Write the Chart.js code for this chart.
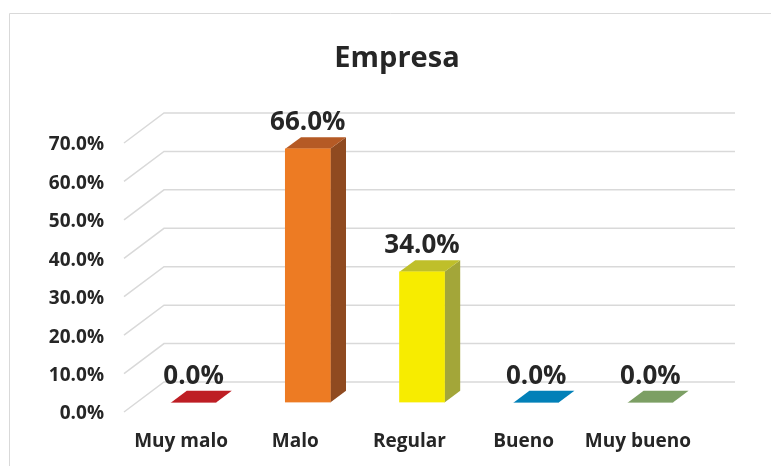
<!DOCTYPE html>
<html>
<head>
<meta charset="utf-8">
<title>Empresa</title>
<script src="https://cdn.jsdelivr.net/npm/chart.js@4/dist/chart.umd.min.js"></script>
<style>
  html, body { margin: 0; padding: 0; background: #fff; }
  canvas { display: block; }
</style>
</head>
<body>
<canvas id="empresaChart" width="771" height="466"></canvas>
<script>
const categorias = ["Muy malo", "Malo", "Regular", "Bueno", "Muy bueno"];
const valores = [0, 66, 34, 0, 0];
const colorFrente = ['#be1e24', '#ed7b23', '#f7ec00', '#0280b8', '#7c9f64'];
const colorTecho = ['#be1e24', '#b55a25', '#bfbf2a', '#0280b8', '#7c9f64'];
const colorLado = ['#8f1a1e', '#8f4a20', '#a3a639', '#02608a', '#5d774b'];

const fuente = '"Open Sans", sans-serif';
const colorTexto = '#262626';
const colorGrid = '#d9d9d9';

// profundidad del piso 3D y de las barras
const fondo = { x: 40, y: -30 };
const despBarra = { x: 12.5, y: -9.5 };
const profBarra = { x: 15.7, y: -11.7 };

function poligono(ctx, puntos, color) {
    ctx.fillStyle = color;
    ctx.beginPath();
    puntos.forEach((p, i) => i ? ctx.lineTo(p[0], p[1]) : ctx.moveTo(p[0], p[1]));
    ctx.closePath();
    ctx.fill();
}

// rejilla (plano trasero + diagonales)
const rejilla3d = {
    id: 'rejilla3d',
    beforeDatasetsDraw(chart) {
        const ctx = chart.ctx;
        const { left, right } = chart.chartArea;
        const y = chart.scales.y;
        ctx.save();
        ctx.strokeStyle = colorGrid;
        ctx.lineWidth = 1.5;
        y.ticks.forEach(t => {
            const py = y.getPixelForValue(t.value);
            ctx.beginPath();
            ctx.moveTo(left, py);
            ctx.lineTo(left + fondo.x, py + fondo.y);
            ctx.lineTo(right + fondo.x, py + fondo.y);
            ctx.stroke();
        });
        ctx.restore();
    }
};

const marco = {
    id: 'marco',
    beforeDraw(chart) {
        const ctx = chart.ctx;
        ctx.save();
        ctx.strokeStyle = colorGrid;
        ctx.lineWidth = 1;
        ctx.beginPath();
        ctx.moveTo(9.5, chart.height);
        ctx.lineTo(9.5, 13.5);
        ctx.lineTo(chart.width, 13.5);
        ctx.stroke();
        ctx.restore();
    }
};

// caras laterales de cada barra, la barra misma la pinta Chart.js
const barras3d = {
    id: 'barras3d',
    beforeDatasetDraw(chart, args) {
        const ctx = chart.ctx;
        ctx.save();
        ctx.translate(despBarra.x, despBarra.y);
        args.meta.data.forEach((el, i) => {
            const izq = el.x - el.width / 2;
            const der = el.x + el.width / 2;
            const dx = profBarra.x, dy = profBarra.y;
            poligono(ctx, [[der, el.y], [der + dx, el.y + dy], [der + dx, el.base + dy], [der, el.base]], colorLado[i]);
            poligono(ctx, [[izq, el.y], [izq + dx, el.y + dy], [der + dx, el.y + dy], [der, el.y]], colorTecho[i]);
        });
    },
    afterDatasetDraw(chart) {
        chart.ctx.restore();
    },
    afterDatasetsDraw(chart) {
        const ctx = chart.ctx;
        ctx.save();
        ctx.font = 'bold 26px ' + fuente;
        ctx.fillStyle = colorTexto;
        ctx.textAlign = 'center';
        ctx.textBaseline = 'alphabetic';
        chart.getDatasetMeta(0).data.forEach((el, i) => {
            ctx.fillText(valores[i].toFixed(1) + '%', el.x + despBarra.x, el.y + despBarra.y - 19);
        });
        ctx.restore();
    }
};

new Chart(document.getElementById('empresaChart'), {
    type: 'bar',
    data: {
        labels: categorias,
        datasets: [{
            data: valores,
            backgroundColor: colorFrente,
            barThickness: 45
        }]
    },
    plugins: [marco, rejilla3d, barras3d],
    options: {
        responsive: false,
        animation: false,
        layout: { padding: { left: 23, right: 0, top: 0, bottom: 0 } },
        plugins: {
            legend: { display: false },
            tooltip: { enabled: false },
            title: {
                display: true,
                text: 'Empresa',
                color: colorTexto,
                font: { family: fuente, size: 29, weight: 'bold', lineHeight: 1.2 },
                padding: { top: 41, bottom: 67.2 }
            }
        },
        scales: {
            x: {
                grid: { display: false },
                border: { display: false },
                afterFit(scale) { scale.height = 54; },
                ticks: {
                    color: colorTexto,
                    font: { family: fuente, size: 19, weight: 'bold' },
                    padding: 10,
                    maxRotation: 0,
                    autoSkip: false
                }
            },
            y: {
                min: 0,
                max: 70,
                grid: { display: false, drawTicks: false },
                border: { display: false },
                afterFit(scale) { scale.width = 101; },
                ticks: {
                    stepSize: 10,
                    color: colorTexto,
                    font: { family: fuente, size: 19, weight: 'bold' },
                    padding: 20,
                    labelOffset: 2,
                    callback: v => v.toFixed(1) + '%'
                }
            },
            // eje vacío: reserva el margen derecho donde cae el plano trasero
            margen: {
                axis: 'y',
                position: 'right',
                grid: { display: false, drawTicks: false },
                border: { display: false },
                ticks: { display: false },
                afterFit(scale) { scale.width = 76; }
            }
        }
    }
});
</script>
</body>
</html>
